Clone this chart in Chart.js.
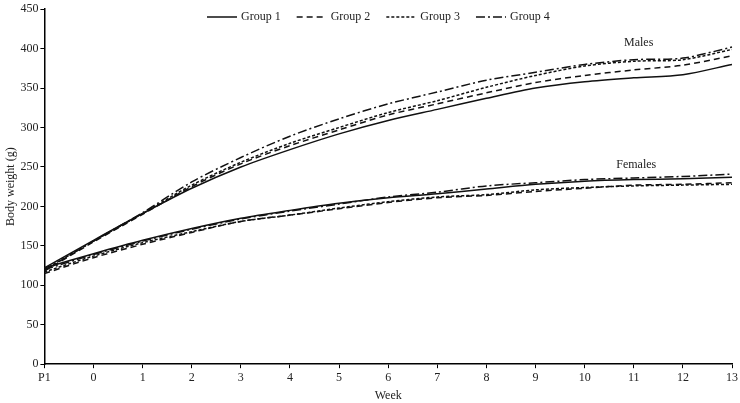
<!DOCTYPE html>
<html><head><meta charset="utf-8">
<script src="https://cdn.jsdelivr.net/npm/chart.js@4/dist/chart.umd.min.js"></script>
<style>html,body{margin:0;padding:0;background:#fff}#wrap{width:740px;height:403px}</style>
</head><body><div id="wrap"><canvas id="c" width="740" height="403"></canvas></div>
<script>
const weeks = ['P1','0','1','2','3','4','5','6','7','8','9','10','11','12','13'];
const groupNames = ['Group 1','Group 2','Group 3','Group 4'];
const malesG1 = [122,157,191,223,250,272,292,309,323,337,350,358,363,367,380];
const malesG2 = [118,155,190,225,254,277,297,316,330,344,357,366,373,379,391];
const malesG3 = [120,156,191,227,256,280,300,319,334,351,366,378,384,386,399];
const malesG4 = [119,156,192,231,262,289,311,330,345,360,370,380,386,388,402];
const femalesG1 = [122,140,157,172,185,195,204,211,216,222,228,232,234,235,237];
const femalesG2 = [115,135,152,167,181,189,197,205,211,214,219,223,227,228,230];
const femalesG3 = [117,137,154,168,181,189,198,206,212,215,221,224,226,227,228];
const femalesG4 = [120,139,156,171,184,194,203,212,218,226,230,234,236,238,241];
const yTicks = [0,50,100,150,200,250,300,350,400,450];

const dashes = [[], [6,4], [3,2], [9,3,2,3]];
const font = 'Liberation Serif';
function ds(label, data, i){
  return {label, data, borderColor:'#111', backgroundColor:'#111', borderWidth:1.5,
    borderDash:dashes[i], pointRadius:0, tension:0.3, fill:false};
}
const datasets = [
  ds(groupNames[0], malesG1, 0), ds(groupNames[1], malesG2, 1),
  ds(groupNames[2], malesG3, 2), ds(groupNames[3], malesG4, 3),
  ds(groupNames[0], femalesG1, 0), ds(groupNames[1], femalesG2, 1),
  ds(groupNames[2], femalesG3, 2), ds(groupNames[3], femalesG4, 3)
];
const notes = [{text:'Males', x:11.1, y:407},{text:'Females', x:11.05, y:253}];
const notePlugin = {id:'notes', afterDatasetsDraw(chart){
  const {ctx, scales:{x,y}} = chart;
  ctx.save(); ctx.font = '12px "'+font+'"'; ctx.fillStyle='#222'; ctx.textAlign='center'; ctx.textBaseline='middle';
  notes.forEach(n=>{ ctx.fillText(n.text, x.getPixelForValue(n.x+1), y.getPixelForValue(n.y)); });
  ctx.restore();
}};
const legendPlugin = {id:'lineLegend', afterDraw(chart){
  const ctx = chart.ctx;
  ctx.save(); ctx.font = '12px "'+font+'"'; ctx.fillStyle='#222'; ctx.textBaseline='middle'; ctx.textAlign='left';
  let x0 = 207; const yy = 17;
  for (let i=0;i<4;i++){
    const d = chart.data.datasets[i];
    ctx.beginPath(); ctx.setLineDash(d.borderDash); ctx.lineWidth = 1.5; ctx.strokeStyle = d.borderColor;
    ctx.moveTo(x0, yy); ctx.lineTo(x0+30, yy); ctx.stroke();
    ctx.setLineDash([]);
    const tx = x0 + 34;
    ctx.fillText(d.label, tx, yy);
    x0 = tx + ctx.measureText(d.label).width + 16;
  }
  ctx.restore();
}};
new Chart(document.getElementById('c'), {
  type:'line',
  data:{labels:weeks, datasets},
  options:{
    responsive:false, animation:false,
    layout:{padding:{top:2,right:4,left:4,bottom:0}},
    plugins:{ legend:{display:false}, tooltip:{enabled:false} },
    scales:{
      x:{type:'category', offset:false,
        grid:{display:true, drawOnChartArea:false, drawTicks:true, tickLength:4, color:'#000'},
        border:{display:true, color:'#000', width:1.5},
        ticks:{color:'#222', font:{family:font, size:12}, padding:2, maxRotation:0, autoSkip:false},
        title:{display:true, text:'Week', color:'#222', font:{family:font, size:12}, padding:{top:2,bottom:0}}
      },
      y:{min:0, max:450,
        afterBuildTicks:(s)=>{s.ticks = yTicks.map(v=>({value:v}));},
        grid:{display:true, drawOnChartArea:false, drawTicks:true, tickLength:4, color:'#000'},
        border:{display:true, color:'#000', width:1.5},
        ticks:{color:'#222', font:{family:font, size:12}, padding:2},
        title:{display:true, text:'Body weight (g)', color:'#222', font:{family:font, size:12}, padding:{top:0,bottom:0}}
      }
    }
  },
  plugins:[notePlugin, legendPlugin]
});
</script></body></html>
